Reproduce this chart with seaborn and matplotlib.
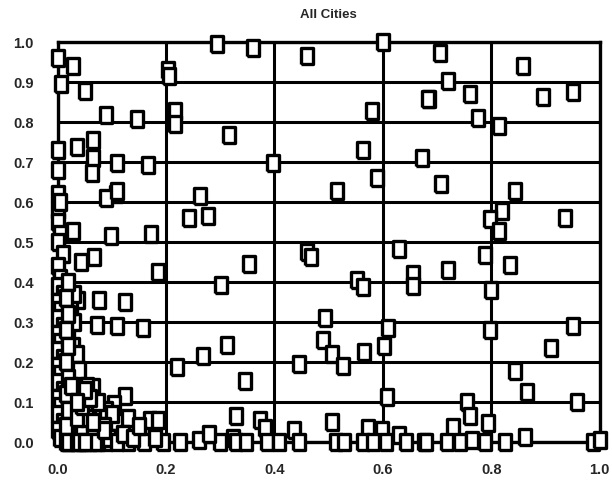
import matplotlib
matplotlib.use("Agg")
import matplotlib.pyplot as plt
import seaborn as sns
import pandas as pd

title = "All Cities"
x_ticks = [0.0, 0.2, 0.4, 0.6, 0.8, 1.0]
y_ticks = [0.0, 0.1, 0.2, 0.3, 0.4, 0.5, 0.6, 0.7, 0.8, 0.9, 1.0]

# upper region points
x_top = [0.0, 0.028, 0.007, 0.05, 0.09, 0.146, 0.0, 0.035, 0.065, 0.065, 0.063, 0.11, 0.166,
         0.0, 0.0, 0.0, 0.107, 0.09, 0.11, 0.005, 0.262, 0.243, 0.277, 0.173, 0.098, 0.028,
         0.203, 0.205, 0.216, 0.216, 0.295, 0.317,
         0.36, 0.46, 0.6, 0.686, 0.58, 0.563, 0.397, 0.672, 0.589, 0.515,
         0.705, 0.858, 0.72, 0.683, 0.76, 0.895, 0.95, 0.775, 0.815, 0.708, 0.843,
         0.935, 0.82, 0.797, 0.815]
y_top = [0.96, 0.94, 0.895, 0.878, 0.817, 0.807, 0.73, 0.738, 0.755, 0.71, 0.672, 0.697, 0.692,
         0.68, 0.62, 0.58, 0.62, 0.61, 0.628, 0.60, 0.616, 0.56, 0.565, 0.52, 0.514, 0.527,
         0.93, 0.915, 0.827, 0.794, 0.995, 0.768,
         0.985, 0.965, 1.0, 0.857, 0.827, 0.73, 0.697, 0.71, 0.659, 0.628,
         0.972, 0.941, 0.903, 0.857, 0.87, 0.862, 0.875, 0.81, 0.789, 0.646, 0.628,
         0.56, 0.578, 0.557, 0.527]

# lower-left region points
x_ll = [0.044, 0.068, 0.185, 0.302, 0.037, 0.077, 0.124, 0.072, 0.109, 0.157, 0.028, 0.312,
        0.268, 0.221, 0.065, 0.124, 0.105, 0.17, 0.185, 0.114,
        0.195, 0.225, 0.26, 0.3, 0.323, 0.28]
y_ll = [0.45, 0.463, 0.425, 0.392, 0.356, 0.354, 0.349, 0.293, 0.29, 0.285, 0.239, 0.242,
        0.216, 0.188, 0.137, 0.115, 0.094, 0.056, 0.056, 0.038,
        0.0, 0.0, 0.005, 0.0, 0.01, 0.02]

# dense cluster near origin
x_cl = [0.0, 0.005, 0.0, 0.01, 0.0, 0.005, 0.0, 0.01, 0.0, 0.005, 0.0, 0.01, 0.0, 0.005,
        0.0, 0.01, 0.0, 0.005, 0.0, 0.01, 0.0, 0.005, 0.0, 0.01, 0.0, 0.005,
        0.03, 0.04, 0.05, 0.03, 0.06, 0.08, 0.04, 0.07, 0.10, 0.05, 0.08, 0.12, 0.03, 0.06,
        0.09, 0.13, 0.02, 0.11, 0.14, 0.02, 0.025, 0.035, 0.02, 0.03, 0.025, 0.03, 0.02,
        0.04, 0.055, 0.09, 0.15, 0.16, 0.18, 0.075, 0.015, 0.02, 0.045, 0.1, 0.13,
        0.015, 0.02, 0.015, 0.02, 0.015, 0.02, 0.015, 0.02, 0.015, 0.02,
        0.035, 0.045, 0.055, 0.065, 0.075, 0.085, 0.095, 0.035, 0.045, 0.06, 0.07, 0.085,
        0.04, 0.05, 0.065, 0.025, 0.035, 0.05, 0.11, 0.12, 0.14, 0.15]
y_cl = [0.55, 0.52, 0.50, 0.47, 0.44, 0.41, 0.39, 0.37, 0.35, 0.33, 0.31, 0.29, 0.27, 0.25,
        0.23, 0.21, 0.19, 0.17, 0.15, 0.13, 0.11, 0.09, 0.07, 0.05, 0.03, 0.01,
        0.15, 0.12, 0.10, 0.08, 0.07, 0.06, 0.05, 0.04, 0.03, 0.02, 0.02, 0.01, 0.01, 0.0,
        0.0, 0.0, 0.03, 0.05, 0.03, 0.11, 0.19, 0.22, 0.26, 0.30, 0.34, 0.37, 0.40,
        0.18, 0.14, 0.08, 0.02, 0.0, 0.01, 0.10, 0.0, 0.0, 0.0, 0.07, 0.06,
        0.36, 0.32, 0.28, 0.24, 0.2, 0.16, 0.12, 0.08, 0.04, 0.0,
        0.0, 0.03, 0.06, 0.02, 0.0, 0.04, 0.01, 0.06, 0.09, 0.11, 0.0, 0.03,
        0.0, 0.13, 0.05, 0.14, 0.1, 0.0, 0.0, 0.02, 0.01, 0.04]

# middle / right lower region points
x_mr = [0.354, 0.461, 0.468, 0.63, 0.552, 0.563, 0.655, 0.655, 0.493, 0.489, 0.506, 0.526,
        0.566, 0.603, 0.61, 0.446, 0.345, 0.607, 0.507, 0.33, 0.373, 0.382, 0.437, 0.572,
        0.598, 0.63,
        0.33, 0.348, 0.387, 0.409, 0.446, 0.514, 0.528, 0.563, 0.581, 0.606, 0.643, 0.676,
        0.788, 0.834, 0.72, 0.8, 0.95, 0.797, 0.91, 0.843, 0.865, 0.755, 0.958, 0.76, 0.793,
        0.729, 0.862, 0.68, 0.718, 0.742, 0.764, 0.788, 0.825, 0.987, 1.0]
y_mr = [0.445, 0.476, 0.463, 0.483, 0.405, 0.387, 0.42, 0.39, 0.31, 0.254, 0.22, 0.19,
        0.226, 0.239, 0.285, 0.195, 0.153, 0.112, 0.05, 0.064, 0.056, 0.036, 0.031, 0.036,
        0.031, 0.018,
        0.0, 0.0, 0.0, 0.0, 0.0, 0.0, 0.0, 0.0, 0.0, 0.0, 0.0, 0.0,
        0.468, 0.443, 0.43, 0.379, 0.29, 0.28, 0.234, 0.178, 0.125, 0.1, 0.1, 0.064, 0.048,
        0.038, 0.013, 0.0, 0.0, 0.0, 0.005, 0.0, 0.0, 0.0, 0.005]

df = pd.DataFrame({
    "x": x_top + x_ll + x_cl + x_mr,
    "y": y_top + y_ll + y_cl + y_mr,
})

sns.set_theme(style="white")
plt.rcParams["font.family"] = ["Liberation Sans", "DejaVu Sans"]

fig = plt.figure(figsize=(6.12, 4.86), dpi=100)
ax = fig.add_axes([0.094, 0.0905, 0.886, 0.823])

box = [(-0.37, -0.5), (0.37, -0.5), (0.37, 0.5), (-0.37, 0.5), (-0.37, -0.5)]
sns.scatterplot(data=df, x="x", y="y", ax=ax, marker=box, s=130,
                facecolor="white", edgecolor="black", linewidth=2.4,
                clip_on=False, zorder=5, legend=False)

ax.set_xlim(0, 1)
ax.set_ylim(0, 1)
ax.set_xticks(x_ticks)
ax.set_yticks(y_ticks)
ax.set_xticklabels([f"{v:.1f}" for v in x_ticks], fontsize=10.5, fontweight="bold")
ax.set_yticklabels([f"{v:.1f}" for v in y_ticks], fontsize=10.5, fontweight="bold")
ax.tick_params(axis="y", length=0, pad=17)
ax.tick_params(axis="x", length=0, pad=15)
ax.grid(True, color="black", linewidth=2.2)
ax.set_axisbelow(True)
for sp in ax.spines.values():
    sp.set_color("black")
    sp.set_linewidth(2.4)
ax.set_xlabel("")
ax.set_ylabel("")
ax.set_title(title, fontsize=9.5, fontweight="bold", pad=17)

fig.savefig("out.png", dpi=100, facecolor="white")
